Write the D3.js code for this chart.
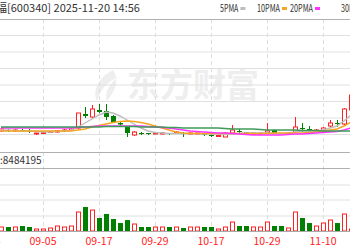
<!DOCTYPE html>
<html>
<head>
<meta charset="utf-8">
<script src="https://cdn.jsdelivr.net/npm/d3@7"></script>
<style>
  html, body { margin: 0; padding: 0; background: #fff; overflow: hidden; }
</style>
</head>
<body>
<div id="chart"></div>
<script>
// 每根K线的序号 (09-05 = 0)
const idx = d3.range(-6, 45);

// 开 高 低 收
const candles = [
  [2.50, 2.54, 2.49, 2.52], [2.51, 2.52, 2.49, 2.50], [2.50, 2.52, 2.49, 2.51],
  [2.51, 2.52, 2.50, 2.50], [2.50, 2.52, 2.48, 2.495], [2.48, 2.48, 2.46, 2.48],
  [2.475, 2.49, 2.47, 2.485], [2.485, 2.50, 2.48, 2.495], [2.49, 2.51, 2.48, 2.505],
  [2.50, 2.52, 2.49, 2.51], [2.505, 2.53, 2.50, 2.52], [2.53, 2.68, 2.52, 2.68],
  [2.67, 2.74, 2.63, 2.65], [2.64, 2.76, 2.63, 2.72], [2.71, 2.77, 2.68, 2.69],
  [2.70, 2.77, 2.61, 2.64], [2.65, 2.66, 2.58, 2.59], [2.58, 2.60, 2.55, 2.565],
  [2.54, 2.55, 2.44, 2.48], [2.46, 2.50, 2.45, 2.49], [2.48, 2.49, 2.46, 2.47],
  [2.48, 2.48, 2.46, 2.47], [2.47, 2.49, 2.47, 2.48], [2.475, 2.49, 2.47, 2.48],
  [2.48, 2.48, 2.46, 2.47], [2.48, 2.50, 2.48, 2.49], [2.48, 2.49, 2.44, 2.47],
  [2.47, 2.49, 2.47, 2.48], [2.47, 2.48, 2.47, 2.48], [2.47, 2.47, 2.45, 2.46],
  [2.46, 2.47, 2.44, 2.45], [2.45, 2.46, 2.45, 2.455], [2.44, 2.49, 2.44, 2.48],
  [2.48, 2.56, 2.48, 2.51], [2.50, 2.52, 2.47, 2.49], [2.49, 2.49, 2.47, 2.47],
  [2.47, 2.48, 2.47, 2.48], [2.47, 2.49, 2.47, 2.48], [2.48, 2.58, 2.48, 2.50],
  [2.51, 2.51, 2.48, 2.48], [2.48, 2.48, 2.47, 2.47], [2.47, 2.48, 2.47, 2.48],
  [2.49, 2.64, 2.49, 2.54], [2.53, 2.58, 2.49, 2.52], [2.52, 2.55, 2.50, 2.51],
  [2.50, 2.52, 2.50, 2.51], [2.49, 2.54, 2.49, 2.53], [2.55, 2.61, 2.53, 2.58],
  [2.58, 2.61, 2.54, 2.57], [2.57, 2.73, 2.56, 2.72], [2.71, 2.91, 2.71, 2.86]
];

// 均线
const ma5 = [
  2.51, 2.51, 2.505, 2.50, 2.50, 2.495, 2.49, 2.49, 2.495, 2.50, 2.505, 2.54,
  2.58, 2.62, 2.66, 2.69, 2.68, 2.65, 2.61, 2.57, 2.53, 2.50, 2.485, 2.48,
  2.475, 2.475, 2.475, 2.475, 2.475, 2.47, 2.47, 2.47, 2.465, 2.47, 2.475, 2.48,
  2.48, 2.48, 2.48, 2.475, 2.475, 2.48, 2.49, 2.50, 2.50, 2.50, 2.51, 2.53,
  2.55, 2.60, 2.66
];
const ma10 = [
  2.50, 2.50, 2.50, 2.50, 2.50, 2.50, 2.50, 2.50, 2.50, 2.50, 2.50, 2.51,
  2.52, 2.54, 2.555, 2.57, 2.585, 2.595, 2.60, 2.595, 2.585, 2.57, 2.55, 2.53,
  2.51, 2.49, 2.48, 2.475, 2.475, 2.475, 2.475, 2.475, 2.475, 2.475, 2.475, 2.475,
  2.475, 2.475, 2.475, 2.48, 2.48, 2.48, 2.48, 2.48, 2.485, 2.49, 2.50, 2.51,
  2.52, 2.55, 2.59
];
const ma20 = [
  2.53, 2.53, 2.53, 2.53, 2.53, 2.53, 2.53, 2.53, 2.53, 2.53, 2.53, 2.535,
  2.54, 2.545, 2.55, 2.55, 2.55, 2.55, 2.55, 2.55, 2.55, 2.545, 2.54, 2.535,
  2.53, 2.52, 2.51, 2.50, 2.495, 2.49, 2.485, 2.48, 2.48, 2.475, 2.47, 2.465,
  2.46, 2.46, 2.46, 2.46, 2.46, 2.465, 2.47, 2.47, 2.475, 2.48, 2.485, 2.49,
  2.495, 2.51, 2.53
];
const ma30 = [
  2.54, 2.54, 2.54, 2.54, 2.54, 2.54, 2.54, 2.54, 2.54, 2.54, 2.54, 2.54,
  2.54, 2.54, 2.54, 2.545, 2.545, 2.545, 2.545, 2.545, 2.54, 2.54, 2.54, 2.54,
  2.535, 2.535, 2.53, 2.53, 2.53, 2.53, 2.53, 2.53, 2.525, 2.52, 2.52, 2.52,
  2.52, 2.515, 2.51, 2.51, 2.51, 2.51, 2.51, 2.505, 2.505, 2.505, 2.50, 2.50,
  2.50, 2.50, 2.50
];

// 成交量 (手)
const volume = [
  547000, 547000, 547000, 684000, 547000, 274000, 274000, 410000, 684000, 547000,
  684000, 2600000, 3280000, 2870000, 1780000, 2330000, 1640000, 1090000, 1500000, 958000,
  547000, 547000, 547000, 547000, 547000, 547000, 410000, 547000, 547000, 547000,
  547000, 274000, 547000, 1230000, 684000, 684000, 547000, 547000, 1230000, 684000,
  684000, 410000, 2600000, 1780000, 1090000, 684000, 1090000, 1500000, 1090000, 2330000,
  274000
];
const volumeMax = 8484195;

// 日期刻度
const tickIdx = [-8, 0, 8, 16, 24, 32, 40];
const tickLabels = ["08-25", "09-05", "09-17", "09-29", "10-17", "10-29", "11-10"];

const legendNames = ["5PMA", "10PMA", "20PMA", "30PMA"];
const legendColors = ["#bdbdbd", "#f5a623", "#ff33ff", "#3f9a5a"];

const width = 350, height = 250;
const RED = "#ff2222", GREEN = "#008000";

const svg = d3.select("#chart").append("svg")
  .attr("width", width).attr("height", height)
  .style("font-family", "'Noto Sans CJK SC', 'DejaVu Sans', sans-serif");

const x = d3.scaleLinear().domain([0, 40]).range([43, 323]);
const y = d3.scaleLinear().domain([2.30, 3.62]).range([151, 19]);
const yv = d3.scaleLinear().domain([0, volumeMax]).range([231, 169]);

// 水印
const wm = svg.append("g").attr("fill", "#eeeeee");
wm.append("path")
  .attr("d", "M113,70 C99,77 92,90 97,101 C100,90 107,82 118,77 C109,84 104,93 107,101 C115,91 120,80 113,70 Z");
wm.append("text").attr("x", 127).attr("y", 97)
  .style("font-size", "33px").style("font-weight", "bold")
  .text("东方财富");

// 网格
const hGrid = [35.5, 52, 68.5, 85, 101.5, 118, 134.5, 185, 200, 216];
svg.append("g").selectAll("line").data(hGrid).enter().append("line")
  .attr("x1", 0).attr("x2", width)
  .attr("y1", (d) => d).attr("y2", (d) => d)
  .attr("stroke", "#e0e0e0");

svg.append("g").selectAll("line").data(tickIdx).enter().append("line")
  .attr("x1", (d) => x(d) + 0.5).attr("x2", (d) => x(d) + 0.5)
  .attr("y1", 19).attr("y2", 231)
  .attr("stroke", "#dddddd")
  .attr("stroke-dasharray", "4,3");

[19.5, 152.5, 168.5].forEach((ly) => {
  svg.append("line").attr("x1", 0).attr("x2", width).attr("y1", ly).attr("y2", ly)
    .attr("stroke", "#b0b0b0");
});

// K线
const bw = 4;
const kg = svg.append("g");
candles.forEach(([o, h, l, c], i) => {
  const cx = Math.round(x(idx[i])) + 0.5;
  const up = c >= o;
  const col = up ? RED : GREEN;
  const top = Math.min(y(o), y(c)), bot = Math.max(y(o), y(c));
  kg.append("line").attr("x1", cx).attr("x2", cx)
    .attr("y1", y(h)).attr("y2", up ? top : y(l))
    .attr("stroke", col);
  if (up) {
    kg.append("line").attr("x1", cx).attr("x2", cx)
      .attr("y1", bot).attr("y2", y(l)).attr("stroke", col);
    kg.append("rect")
      .attr("x", cx - bw / 2).attr("y", top)
      .attr("width", bw).attr("height", Math.max(bot - top, 1))
      .attr("fill", "#fff").attr("stroke", col);
  } else {
    kg.append("rect")
      .attr("x", cx - bw / 2 - 0.5).attr("y", top)
      .attr("width", bw + 1).attr("height", Math.max(bot - top, 1))
      .attr("fill", col);
  }
});

// 均线
[ma5, ma10, ma20, ma30].forEach((ma, k) => {
  const line = d3.line().x((d, i) => x(idx[i])).y((d) => y(d));
  svg.append("path").datum(ma)
    .attr("fill", "none")
    .attr("stroke", legendColors[k])
    .attr("stroke-width", 1.4)
    .attr("d", line);
});

// 成交量
const vg = svg.append("g");
volume.forEach((v, i) => {
  const [o, , , c] = candles[i];
  const up = c >= o;
  const cx = Math.round(x(idx[i])) + 0.5;
  if (up) {
    vg.append("rect")
      .attr("x", cx - bw / 2).attr("y", yv(v))
      .attr("width", bw).attr("height", Math.max(yv(0) - yv(v), 1))
      .attr("fill", "#fff").attr("stroke", RED);
  } else {
    vg.append("rect")
      .attr("x", cx - bw / 2 - 0.5).attr("y", yv(v))
      .attr("width", bw + 1).attr("height", yv(0) - yv(v))
      .attr("fill", GREEN);
  }
});
svg.append("line").attr("x1", 0).attr("x2", width).attr("y1", 231.5).attr("y2", 231.5)
  .attr("stroke", "#aaaaaa");

// 日期
svg.append("g").selectAll("text").data(tickIdx).enter().append("text")
  .attr("x", (d) => x(d))
  .attr("y", 245)
  .attr("text-anchor", "middle")
  .attr("fill", RED)
  .style("font-size", "10.5px")
  .text((d, i) => tickLabels[i]);

// 标题
svg.append("text").attr("x", 7).attr("y", 12)
  .attr("text-anchor", "end")
  .attr("fill", "#333")
  .style("font-size", "11px")
  .text("华夏幸福");
svg.append("text").attr("x", 7).attr("y", 12)
  .attr("fill", "#333")
  .style("font-size", "11px")
  .text("[600340] 2025-11-20 14:56");

svg.append("text").attr("x", 0).attr("y", 164)
  .attr("fill", "#333")
  .style("font-size", "10px")
  .text(":" + volumeMax);

// 图例
const legendX = [220, 257, 290, 341];
const lg = svg.append("g").style("font-size", "10px").attr("fill", "#333");
legendNames.forEach((name, k) => {
  const w = name.length * 4.6;
  lg.append("text").attr("x", legendX[k]).attr("y", 12).text(name)
    .attr("textLength", w).attr("lengthAdjust", "spacingAndGlyphs");
  lg.append("rect").attr("x", legendX[k] + w + 2).attr("y", 7)
    .attr("width", 5).attr("height", 3)
    .attr("fill", legendColors[k]);
});
</script>
</body>
</html>
